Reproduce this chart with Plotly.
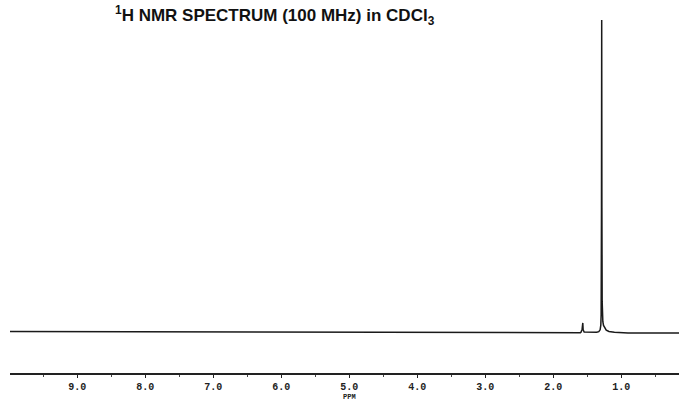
import plotly.graph_objects as go

# Spectrum sample points (chemical shift in ppm, relative intensity)
ppm = [9.99, 9.0, 8.0, 7.0, 6.0, 5.0, 4.0, 3.0, 2.0, 1.7, 1.6, 1.59, 1.575, 1.565, 1.56, 1.545,
       1.45, 1.36, 1.33, 1.31, 1.30, 1.295, 1.29, 1.287, 1.284, 1.28, 1.275, 1.27, 1.26, 1.24,
       1.22, 1.18, 1.10, 0.9, 0.6, 0.15]
intensity = [0.5, 0.45, 0.35, 0.3, 0.25, 0.2, 0.15, 0.1, 0.05, 0.05, 0.1, 0.3, 1.2, 3.2, 1.0, 0.3,
             0.15, 0.2, 0.4, 1.0, 2.5, 6.0, 40.0, 100.0, 40.0, 10.0, 5.0, 3.6, 2.4, 1.4,
             0.9, 0.45, 0.2, 0.0, 0.0, 0.0]

major_ticks = [9, 8, 7, 6, 5, 4, 3, 2, 1]
major_labels = ["9.0", "8.0", "7.0", "6.0", "5.0", "4.0", "3.0", "2.0", "1.0"]

fig = go.Figure()
fig.add_trace(go.Scatter(x=ppm, y=intensity, mode="lines",
                         line=dict(color="#1a1a1a", width=1.5), hoverinfo="skip"))

fig.update_layout(
    width=679, height=401,
    margin=dict(l=10, r=0, t=5, b=28),
    paper_bgcolor="white", plot_bgcolor="white",
    showlegend=False,
    xaxis=dict(range=[9.99, 0.15], showgrid=False, zeroline=False,
               showline=True, linecolor="#222", linewidth=1.5,
               tickmode="array", tickvals=major_ticks, ticktext=major_labels,
               ticks="outside", ticklen=3, tickcolor="#222", tickwidth=1,
               tickfont=dict(family="Liberation Mono", size=10, color="#222", weight="bold"),
               minor=dict(tickvals=[9.5, 8.5, 7.5, 6.5, 5.5, 4.5, 3.5, 2.5, 1.5, 0.5],
                          ticks="outside", ticklen=2, tickcolor="#444")),
    yaxis=dict(range=[-12.8, 104.8], visible=False),
)

fig.add_annotation(text="<b><sup>1</sup>H NMR SPECTRUM (100 MHz) in CDCl<sub>3</sub></b>",
                   xref="paper", yref="paper", x=(275 - 10) / 669, y=(401 - 28 - 16) / 368,
                   showarrow=False, xanchor="center", yanchor="middle",
                   font=dict(family="Liberation Sans", size=17, color="#111"))
fig.add_annotation(text="<b>PPM</b>", xref="x", yref="paper", x=5.0, y=(401 - 28 - 396.5) / 368,
                   showarrow=False, xanchor="center", yanchor="middle",
                   font=dict(family="Liberation Mono", size=7, color="#222"))

fig.write_html("out.html")
